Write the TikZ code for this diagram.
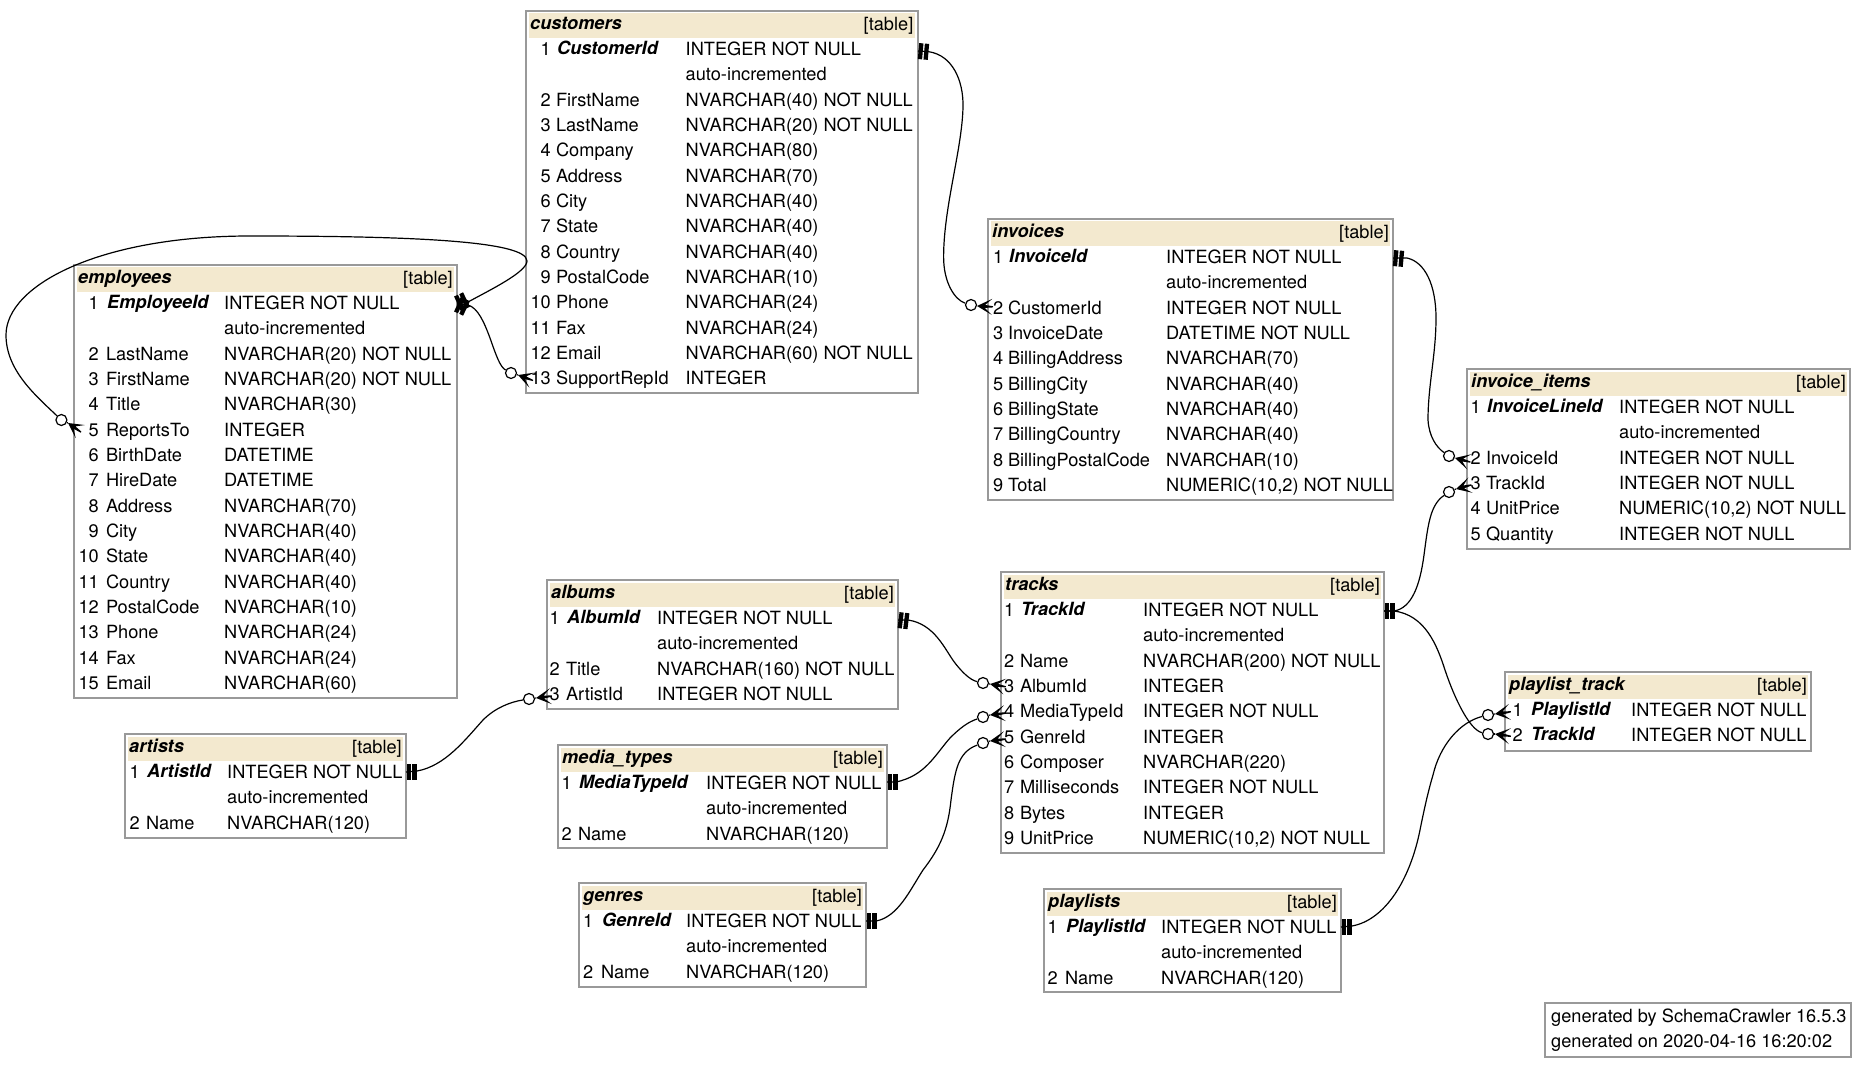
\documentclass[tikz,border=0pt]{standalone}
\usepackage{fontspec}
\setmainfont{TeX Gyre Heros}
\definecolor{bandc}{HTML}{F3E9CF}
\definecolor{boxc}{HTML}{999999}
\newcount\rowc
\tikzset{x=1pt,y=-1pt,
  tbox/.style={draw=boxc,line width=2pt,fill=white,outer sep=0pt},
  band/.style={fill=bandc},
  txt/.style={inner sep=0pt,font=\fontsize{18.2}{20}\selectfont,text=black},
  numtxt/.style={txt,anchor=base east},
  nametxt/.style={txt,anchor=base west},
  keytxt/.style={txt,anchor=base west,font=\fontsize{18.2}{20}\selectfont\bfseries\itshape},
  tagtxt/.style={txt,anchor=base east},
  rel/.style={line width=1.2pt,black},
  ocirc/.style={circle,draw=black,line width=1.2pt,fill=white,inner sep=0pt,minimum size=11pt},
}
% name, x1,y1,x2,y2, title, numright, namex, typex
\newcommand\dbt[9]{%
  \def\tN{#1}\def\tX{#2}\def\tY{#3}\def\tR{#7}\def\tM{#8}\def\tT{#9}\global\rowc=0
  \node[tbox,rectangle,inner sep=0pt,minimum width={#4-#2},minimum height={#5-#3},anchor=north west] (#1) at (#2,#3) {};
  \fill[band] (#2+3,#3+2.5) rectangle (#4-3,#3+27);
  \node[keytxt] (#1-title) at (#2+4,#3+18.5) {#6};
  \node[tagtxt] (#1-tag) at (#4-4,#3+19.5) {[table]};
}
\newcommand\rowY{\pgfmathsetmacro\yy{\tY+44.6+\the\rowc*25.33}\pgfmathsetmacro\yk{\yy-1.2}\pgfmathsetmacro\xn{\tM-1.2}}
\newcommand\rowP[3]{\rowY
  \node[numtxt] (\tN-n\the\rowc) at (\tR,\yy) {#1};
  \node[nametxt] (\tN-c\the\rowc) at (\xn,\yy) {#2};
  \node[nametxt] (\tN-t\the\rowc) at (\tT,\yy) {#3};
  \global\advance\rowc by 1 }
\newcommand\rowK[3]{\rowY
  \node[numtxt] (\tN-n\the\rowc) at (\tR,\yy) {#1};
  \node[keytxt] (\tN-c\the\rowc) at (\tM,\yk) {#2};
  \node[nametxt] (\tN-t\the\rowc) at (\tT,\yy) {#3};
  \global\advance\rowc by 1 }
\newcommand\rowA{\rowY
  \node[nametxt] (\tN-t\the\rowc) at (\tT,\yy) {auto-incremented};
  \global\advance\rowc by 1 }
% crow foot: name, tip x, tip y, rotation
\newcommand\crow[4]{%
  \coordinate (#1) at (#2,#3);
  \begin{scope}[shift={(#2,#3)},rotate=#4]
    \fill[black] (0,0) -- (15,-8) -- (8,-1.5) -- (16,-0.6) -- (16,0.6) -- (8,1.5) -- (15,8) -- cycle;
  \end{scope}}
% two bars: x, y, rotation
\newcommand\teetee[3]{%
  \begin{scope}[shift={(#1,#2)},rotate=#3]
    \fill[black] (0.5,-8) rectangle (4.8,8);
    \fill[black] (6.2,-8) rectangle (10.5,8);
  \end{scope}}
\begin{document}
\begin{tikzpicture}
\useasboundingbox (0,0) rectangle (1866,1067);
\fill[white] (0,0) rectangle (1866,1067);

\dbt{customers}{526}{11}{917.5}{393}{customers}{551}{557}{685.5}
\rowK{1}{CustomerId}{INTEGER NOT NULL}\rowA
\rowP{2}{FirstName}{NVARCHAR(40) NOT NULL}
\rowP{3}{LastName}{NVARCHAR(20) NOT NULL}
\rowP{4}{Company}{NVARCHAR(80)}
\rowP{5}{Address}{NVARCHAR(70)}
\rowP{6}{City}{NVARCHAR(40)}
\rowP{7}{State}{NVARCHAR(40)}
\rowP{8}{Country}{NVARCHAR(40)}
\rowP{9}{PostalCode}{NVARCHAR(10)}
\rowP{10}{Phone}{NVARCHAR(24)}
\rowP{11}{Fax}{NVARCHAR(24)}
\rowP{12}{Email}{NVARCHAR(60) NOT NULL}
\rowP{13}{SupportRepId}{INTEGER}

\dbt{employees}{74}{265}{457}{698}{employees}{99}{107}{224}
\rowK{1}{EmployeeId}{INTEGER NOT NULL}\rowA
\rowP{2}{LastName}{NVARCHAR(20) NOT NULL}
\rowP{3}{FirstName}{NVARCHAR(20) NOT NULL}
\rowP{4}{Title}{NVARCHAR(30)}
\rowP{5}{ReportsTo}{INTEGER}
\rowP{6}{BirthDate}{DATETIME}
\rowP{7}{HireDate}{DATETIME}
\rowP{8}{Address}{NVARCHAR(70)}
\rowP{9}{City}{NVARCHAR(40)}
\rowP{10}{State}{NVARCHAR(40)}
\rowP{11}{Country}{NVARCHAR(40)}
\rowP{12}{PostalCode}{NVARCHAR(10)}
\rowP{13}{Phone}{NVARCHAR(24)}
\rowP{14}{Fax}{NVARCHAR(24)}
\rowP{15}{Email}{NVARCHAR(60)}

\dbt{invoices}{988}{219}{1393}{500}{invoices}{1003.5}{1009}{1166}
\rowK{1}{InvoiceId}{INTEGER NOT NULL}\rowA
\rowP{2}{CustomerId}{INTEGER NOT NULL}
\rowP{3}{InvoiceDate}{DATETIME NOT NULL}
\rowP{4}{BillingAddress}{NVARCHAR(70)}
\rowP{5}{BillingCity}{NVARCHAR(40)}
\rowP{6}{BillingState}{NVARCHAR(40)}
\rowP{7}{BillingCountry}{NVARCHAR(40)}
\rowP{8}{BillingPostalCode}{NVARCHAR(10)}
\rowP{9}{Total}{NUMERIC(10,2) NOT NULL}

\dbt{invoiceitems}{1467}{369}{1850}{549}{invoice\_items}{1481}{1487}{1619}
\rowK{1}{InvoiceLineId}{INTEGER NOT NULL}\rowA
\rowP{2}{InvoiceId}{INTEGER NOT NULL}
\rowP{3}{TrackId}{INTEGER NOT NULL}
\rowP{4}{UnitPrice}{NUMERIC(10,2) NOT NULL}
\rowP{5}{Quantity}{INTEGER NOT NULL}

\dbt{tracks}{1001}{572}{1384}{853}{tracks}{1014.5}{1021}{1143}
\rowK{1}{TrackId}{INTEGER NOT NULL}\rowA
\rowP{2}{Name}{NVARCHAR(200) NOT NULL}
\rowP{3}{AlbumId}{INTEGER}
\rowP{4}{MediaTypeId}{INTEGER NOT NULL}
\rowP{5}{GenreId}{INTEGER}
\rowP{6}{Composer}{NVARCHAR(220)}
\rowP{7}{Milliseconds}{INTEGER NOT NULL}
\rowP{8}{Bytes}{INTEGER}
\rowP{9}{UnitPrice}{NUMERIC(10,2) NOT NULL}

\dbt{playlisttrack}{1505}{672}{1811}{751}{playlist\_track}{1523}{1531}{1631}
\rowK{1}{PlaylistId}{INTEGER NOT NULL}
\rowK{2}{TrackId}{INTEGER NOT NULL}

\dbt{albums}{547}{580}{898}{709}{albums}{560}{567}{657}
\rowK{1}{AlbumId}{INTEGER NOT NULL}\rowA
\rowP{2}{Title}{NVARCHAR(160) NOT NULL}
\rowP{3}{ArtistId}{INTEGER NOT NULL}

\dbt{artists}{125}{734}{406}{838}{artists}{140}{147}{227}
\rowK{1}{ArtistId}{INTEGER NOT NULL}\rowA
\rowP{2}{Name}{NVARCHAR(120)}

\dbt{mediatypes}{558}{745}{887}{848}{media\_types}{572}{579}{706}
\rowK{1}{MediaTypeId}{INTEGER NOT NULL}\rowA
\rowP{2}{Name}{NVARCHAR(120)}

\dbt{genres}{579}{883}{866}{987}{genres}{593.5}{602}{686}
\rowK{1}{GenreId}{INTEGER NOT NULL}\rowA
\rowP{2}{Name}{NVARCHAR(120)}

\dbt{playlists}{1044}{889}{1341}{992}{playlists}{1058}{1066}{1161}
\rowK{1}{PlaylistId}{INTEGER NOT NULL}\rowA
\rowP{2}{Name}{NVARCHAR(120)}

% footer
\node[draw=boxc,line width=1.6pt,outer sep=0pt,rectangle,inner sep=0pt,minimum width=306pt,minimum height=54pt,anchor=north west] (footer) at (1545,1003) {};
\node[nametxt] (footer-a) at (1551,1022.5) {generated by SchemaCrawler 16.5.3};
\node[nametxt] (footer-b) at (1551,1047.5) {generated on 2020-04-16 16:20:02};

% relationship ends
\coordinate (pkcust) at (918,51);
\coordinate (pkemp) at (457,304);
\coordinate (pkinv) at (1393,258);
\coordinate (pktrack) at (1384,611);
\coordinate (pkalb) at (898,620);
\coordinate (pkart) at (406,772);
\coordinate (pkmed) at (887,782);
\coordinate (pkgen) at (866,921);
\coordinate (pkpl) at (1341,927);

% crow-foot circles come first so that connectors can end on them
\node[ocirc] (o1) at (971,305) {};
\node[ocirc] (o2) at (61.4,420) {};
\node[ocirc] (o3) at (511,373) {};
\node[ocirc] (o4) at (1449,456) {};
\node[ocirc] (o5) at (1449,492) {};
\node[ocirc] (o6) at (1488,715) {};
\node[ocirc] (o7) at (1488,734) {};
\node[ocirc] (o8) at (983,683) {};
\node[ocirc] (o9) at (983,717) {};
\node[ocirc] (o10) at (983,743) {};
\node[ocirc] (o11) at (529,699) {};

% connectors
\draw[rel] (pkcust) -- (928.6,51.7) .. controls (952,55) and (963.6,80) .. (963,107)
  .. controls (962,150) and (943.6,207) .. (943.6,257)
  .. controls (943.6,283) and (955,300) .. (o1);
\draw[rel] (pkemp) -- (468,302) .. controls (490,290) and (527,272) .. (527,261)
  .. controls (527,240) and (400,236) .. (250,236)
  .. controls (100,236) and (6,285) .. (6,335)
  .. controls (6,370) and (35,395) .. (o2);
\draw[rel] (pkemp) -- (468,305) .. controls (478,308) and (484,322) .. (490,338)
  .. controls (496,355) and (500,367) .. (o3);
\draw[rel] (pkinv) -- (1407,258) .. controls (1425,262) and (1436,285) .. (1436,318)
  .. controls (1436,355) and (1428,385) .. (1428,420)
  .. controls (1429,436) and (1436,447) .. (o4);
\draw[rel] (pktrack) -- (1394,611) .. controls (1412,608) and (1420,585) .. (1424,555)
  .. controls (1428,525) and (1430,505) .. (o5);
\draw[rel] (pktrack) -- (1394,611) .. controls (1425,615) and (1437,645) .. (1445,670)
  .. controls (1455,700) and (1470,730) .. (o7);
\draw[rel] (pkpl) -- (1352,926) .. controls (1385,920) and (1410,880) .. (1420,830)
  .. controls (1426,800) and (1430,785) .. (1433,775)
  .. controls (1440,745) and (1460,722) .. (o6);
\draw[rel] (pkalb) -- (908,620) .. controls (935,624) and (945,650) .. (955,663)
  .. controls (962,672) and (970,680) .. (o8);
\draw[rel] (pkmed) -- (896,782) .. controls (925,776) and (935,755) .. (950,738)
  .. controls (960,728) and (968,722) .. (o9);
\draw[rel] (pkgen) -- (876,921) .. controls (898,917) and (910,890) .. (923,870)
  .. controls (940,848) and (948,830) .. (951,800)
  .. controls (955,770) and (958,752) .. (o10);
\draw[rel] (pkart) -- (417,771) .. controls (445,766) and (465,740) .. (483,720)
  .. controls (495,708) and (510,702) .. (o11);

% tees
\teetee{918}{51}{-5}
\teetee{457}{304}{-25}
\teetee{457}{304}{25}
\teetee{1393}{258}{-5}
\teetee{1384}{611}{0}
\teetee{898}{620}{-7}
\teetee{406}{772}{0}
\teetee{887}{782}{0}
\teetee{866}{921}{0}
\teetee{1341}{927}{0}

% crow feet
\crow{fk1}{977}{306}{-3}
\draw[rel] (o1) -- (fk1);
\crow{fk2}{68}{423}{-35}
\draw[rel] (o2) -- (fk2);
\crow{fk3}{518}{375}{-20}
\draw[rel] (o3) -- (fk3);
\crow{fk4}{1455}{458}{-15}
\draw[rel] (o4) -- (fk4);
\crow{fk5}{1456}{489}{15}
\draw[rel] (o5) -- (fk5);
\crow{fk6}{1495}{714}{8}
\draw[rel] (o6) -- (fk6);
\crow{fk7}{1495}{734}{-8}
\draw[rel] (o7) -- (fk7);
\crow{fk8}{990}{684}{-10}
\draw[rel] (o8) -- (fk8);
\crow{fk9}{990}{715}{7}
\draw[rel] (o9) -- (fk9);
\crow{fk10}{990}{741}{7}
\draw[rel] (o10) -- (fk10);
\crow{fk11}{536}{698}{7}
\draw[rel] (o11) -- (fk11);
\end{tikzpicture}
\end{document}
